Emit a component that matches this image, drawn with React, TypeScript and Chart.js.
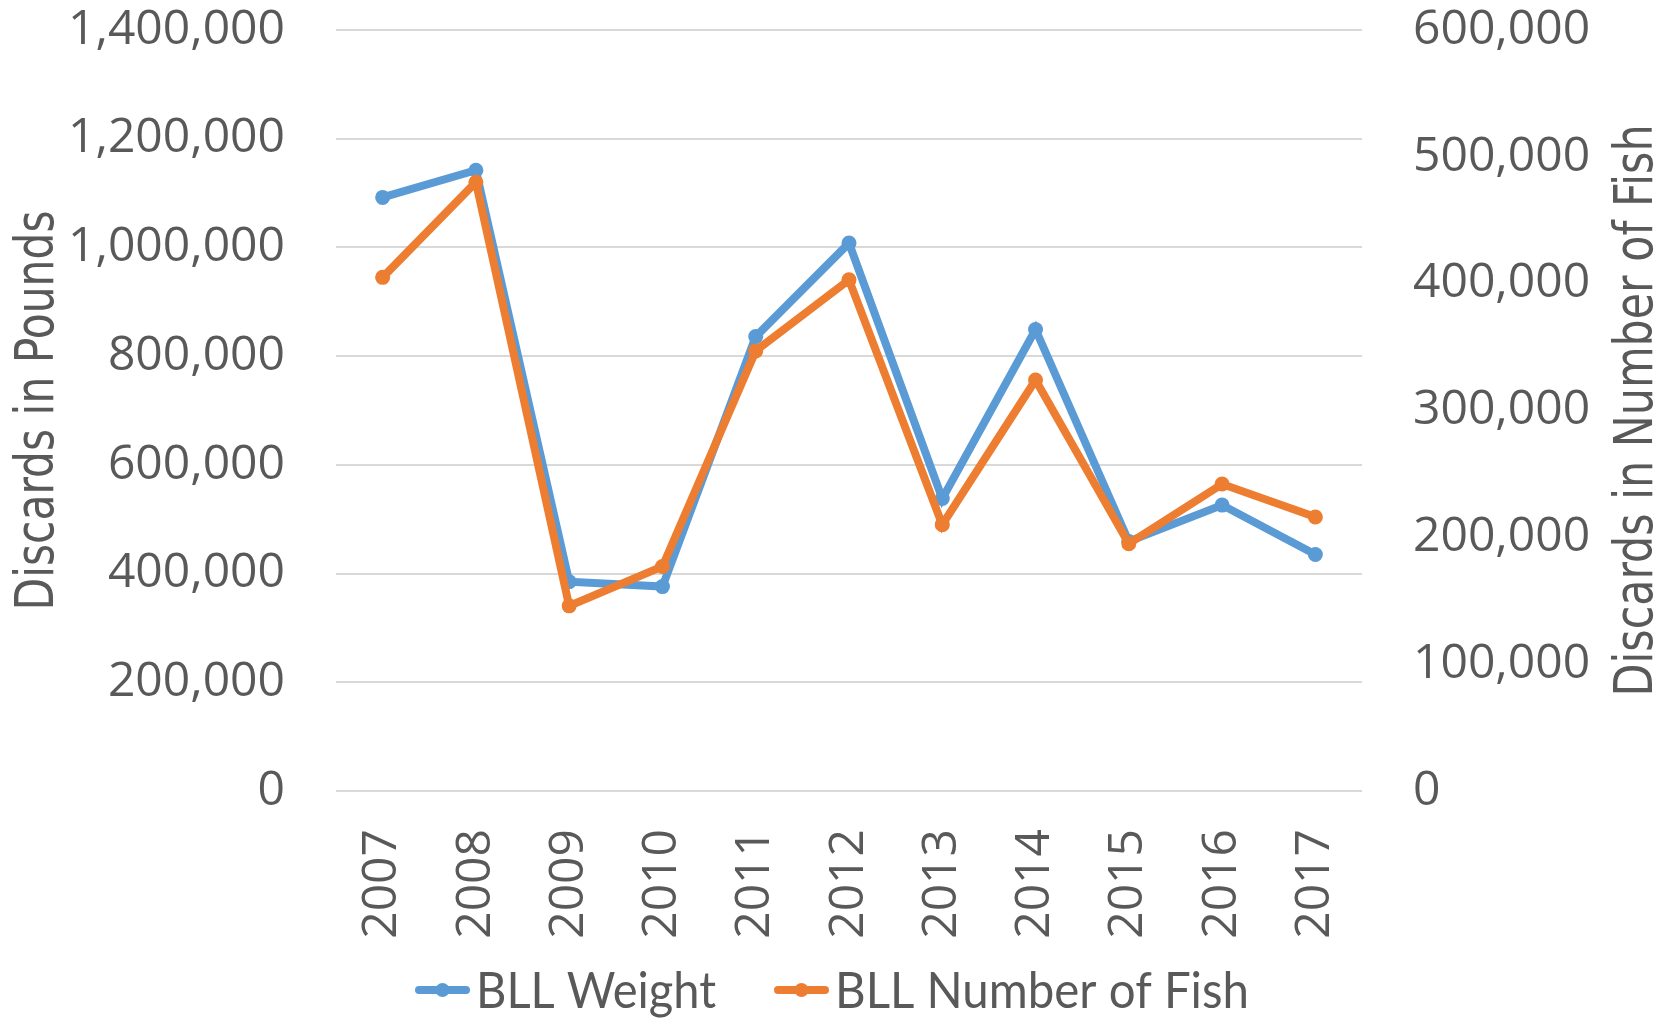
import React, { useEffect, useRef } from 'react';
import { Chart, registerables } from 'chart.js';

Chart.register(...registerables);

// ---- data ----
const years = ['2007', '2008', '2009', '2010', '2011', '2012', '2013', '2014', '2015', '2016', '2017'];
const weightLbs = [1092000, 1142000, 385000, 376000, 836000, 1008000, 538000, 849000, 459000, 526000, 435000];
const numberOfFish = [405000, 480000, 146000, 177000, 347000, 403000, 210000, 324000, 195000, 242000, 216000];
const seriesNames = ['BLL Weight', 'BLL Number of Fish'];
const axisTitles = ['Discards in Pounds', 'Discards in Number of Fish'];
const leftAxisRange = [0, 1400000, 200000];
const rightAxisRange = [0, 600000, 100000];

// ---- styles ----
const BLUE = '#5B9BD5';
const ORANGE = '#ED7D31';
const TEXT = '#595959';
const GRID = '#D9D9D9';
const TICK_FONT = '"Open Sans", "DejaVu Sans", sans-serif';
const TITLE_FONT = '"Liberation Sans Narrow", "DejaVu Sans Condensed", "Noto Sans", sans-serif';
const LEGEND_FONT = 'Lato, "Open Sans", sans-serif';

const fmt = (v: number | string) => Number(v).toLocaleString('en-US');

const decorPlugin = {
  id: 'decor',
  afterDraw(chart: any) {
    const ctx: CanvasRenderingContext2D = chart.ctx;
    const area = chart.chartArea;
    const cy = (area.top + area.bottom) / 2;
    ctx.save();
    ctx.fillStyle = TEXT;

    // axis titles (both read bottom-to-top)
    ctx.font = `54px ${TITLE_FONT}`;
    ctx.textAlign = 'center';
    ctx.textBaseline = 'alphabetic';
    const drawTitle = (text: string, xBase: number, len: number) => {
      const w = ctx.measureText(text).width;
      ctx.save();
      ctx.translate(xBase, cy);
      ctx.rotate(-Math.PI / 2);
      ctx.scale(len / w, 1);
      ctx.fillText(text, 0, 0);
      ctx.restore();
    };
    drawTitle(axisTitles[0], 53, 400);
    drawTitle(axisTitles[1], 1652, 572);

    // legend
    const ly = 990;
    const items = [
      { name: seriesNames[0], color: BLUE, segX: 415, textX: 476, textW: 240 },
      { name: seriesNames[1], color: ORANGE, segX: 774, textX: 835, textW: 414 },
    ];
    ctx.font = `50px ${LEGEND_FONT}`;
    ctx.textAlign = 'left';
    ctx.textBaseline = 'middle';
    for (const it of items) {
      ctx.strokeStyle = it.color;
      ctx.lineWidth = 8;
      ctx.lineCap = 'round';
      ctx.beginPath();
      ctx.moveTo(it.segX + 4, ly);
      ctx.lineTo(it.segX + 51, ly);
      ctx.stroke();
      ctx.fillStyle = it.color;
      ctx.beginPath();
      ctx.arc(it.segX + 27.5, ly, 7, 0, Math.PI * 2);
      ctx.fill();
      const w = ctx.measureText(it.name).width;
      ctx.save();
      ctx.translate(it.textX, ly + 2);
      ctx.scale(it.textW / w, 1);
      ctx.fillStyle = TEXT;
      ctx.fillText(it.name, 0, 0);
      ctx.restore();
    }
    ctx.restore();
  },
};

const zeroPad = (s: any) => {
  s.paddingTop = 0;
  s.paddingBottom = 0;
  s.paddingLeft = 0;
  s.paddingRight = 0;
};

export default function App() {
  const canvasRef = useRef<HTMLCanvasElement | null>(null);

  useEffect(() => {
    if (!canvasRef.current) return;
    const tickFont = { family: TICK_FONT, size: 48 };
    const chart = new Chart(canvasRef.current, {
      type: 'line',
      data: {
        labels: years,
        datasets: [
          {
            label: seriesNames[0],
            data: weightLbs,
            yAxisID: 'y',
            borderColor: BLUE,
            backgroundColor: BLUE,
            borderWidth: 8,
            pointRadius: 7.5,
            pointBorderWidth: 0,
            pointBackgroundColor: BLUE,
            tension: 0,
            order: 1,
          },
          {
            label: seriesNames[1],
            data: numberOfFish,
            yAxisID: 'y1',
            borderColor: ORANGE,
            backgroundColor: ORANGE,
            borderWidth: 8,
            pointRadius: 7.5,
            pointBorderWidth: 0,
            pointBackgroundColor: ORANGE,
            tension: 0,
            order: 0,
          },
        ],
      },
      options: {
        responsive: false,
        animation: false,
        layout: { padding: { top: 30, left: 0, right: 0, bottom: 0 } },
        plugins: {
          legend: { display: false },
          tooltip: { enabled: false },
        },
        scales: {
          x: {
            offset: true,
            grid: { display: false, drawTicks: false },
            border: { display: false },
            ticks: {
              color: TEXT,
              font: tickFont,
              minRotation: 90,
              maxRotation: 90,
              padding: 38,
              autoSkip: false,
            },
            afterFit: (s: any) => {
              s.height = 227;
              zeroPad(s);
            },
          },
          y: {
            position: 'left',
            min: leftAxisRange[0],
            max: leftAxisRange[1],
            ticks: {
              stepSize: leftAxisRange[2],
              color: TEXT,
              font: tickFont,
              padding: 51,
              callback: (v: any) => fmt(v),
            },
            grid: { color: GRID, lineWidth: 2, drawTicks: false },
            border: { display: false },
            afterFit: (s: any) => {
              s.width = 336;
              zeroPad(s);
            },
          },
          y1: {
            position: 'right',
            min: rightAxisRange[0],
            max: rightAxisRange[1],
            ticks: {
              stepSize: rightAxisRange[2],
              color: TEXT,
              font: tickFont,
              padding: 51,
              callback: (v: any) => fmt(v),
            },
            grid: { display: false, drawTicks: false },
            border: { display: false },
            afterFit: (s: any) => {
              s.width = 307;
              zeroPad(s);
            },
          },
        },
      } as any,
      plugins: [decorPlugin],
    });
    return () => chart.destroy();
  }, []);

  return (
    <div style={{ position: 'absolute', left: 0, top: 0, width: 1669, height: 1018, background: '#fff' }}>
      <canvas ref={canvasRef} width={1669} height={1018} style={{ display: 'block' }} />
    </div>
  );
}
